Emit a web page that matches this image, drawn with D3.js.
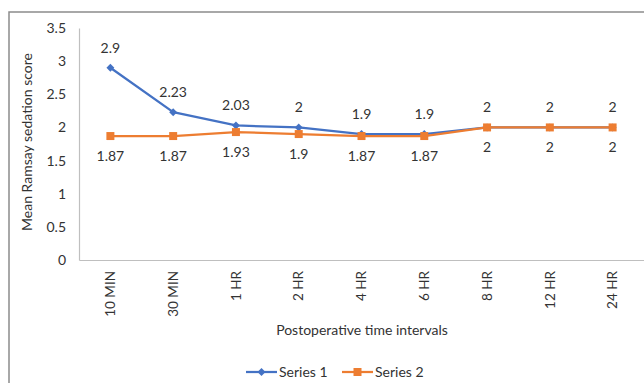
<!DOCTYPE html>
<html>
<head>
<meta charset="utf-8">
<script src="https://cdn.jsdelivr.net/npm/d3@7"></script>
<style>
  html, body { margin: 0; padding: 0; background: #fff; }
  svg { display: block; font-family: Lato, "Open Sans", sans-serif; }
</style>
</head>
<body>
<svg id="chart" width="644" height="383"></svg>
<script>
// Postoperative sedation: mean Ramsay score per time interval
const categories = ["10 MIN", "30 MIN", "1 HR", "2 HR", "4 HR", "6 HR", "8 HR", "12 HR", "24 HR"];
const series1 = [2.9, 2.23, 2.03, 2, 1.9, 1.9, 2, 2, 2];
const series2 = [1.87, 1.87, 1.93, 1.9, 1.87, 1.87, 2, 2, 2];
const yTicks = [0, 0.5, 1, 1.5, 2, 2.5, 3, 3.5];
const seriesNames = ["Series 1", "Series 2"];

const colors = ["#4472C4", "#ED7D31"];
const textColor = "#333333";
const fontSize = "14px";

const svg = d3.select("#chart");

// outer frame (top and left edges visible)
svg.append("path")
  .attr("d", "M9,383 L9,12 L644,12")
  .attr("fill", "none")
  .attr("stroke", "#8c8c8c")
  .attr("stroke-width", 1.5);

const plot = { left: 79, right: 644, top: 28, bottom: 260 };

const x = d3.scaleBand().domain(categories).range([plot.left, plot.right]);
const y = d3.scaleLinear().domain([0, 3.5]).range([plot.bottom, plot.top]);
const cx = c => x(c) + x.bandwidth() / 2;

// y axis
const yAxis = svg.append("g")
  .attr("transform", `translate(${plot.left},0)`)
  .call(d3.axisLeft(y).tickValues(yTicks).tickSize(0).tickPadding(13).tickFormat(d3.format("")));
yAxis.select(".domain").attr("stroke", "#bfbfbf").attr("stroke-width", 1.2);
yAxis.selectAll("text").attr("fill", textColor).style("font-size", fontSize).style("font-family", "Lato, sans-serif");

// x axis
const xAxis = svg.append("g")
  .attr("transform", `translate(0,${plot.bottom})`)
  .call(d3.axisBottom(x).tickSize(0).tickPadding(0));
xAxis.select(".domain").attr("stroke", "#bfbfbf").attr("stroke-width", 1.2);
xAxis.selectAll("text")
  .attr("fill", textColor)
  .style("font-size", "13.5px")
  .style("font-family", "Lato, sans-serif")
  .attr("transform", "rotate(-90)")
  .attr("text-anchor", "end")
  .attr("x", -11)
  .attr("y", 0)
  .attr("dy", "0.35em");

// axis titles
svg.append("text")
  .attr("x", 362).attr("y", 335)
  .attr("text-anchor", "middle")
  .attr("fill", textColor)
  .style("font-size", fontSize)
  .text("Postoperative time intervals");

svg.append("text")
  .attr("transform", "translate(32,142) rotate(-90)")
  .attr("text-anchor", "middle")
  .attr("fill", textColor)
  .style("font-size", fontSize)
  .text("Mean Ramsay sedation score");

const line = d3.line().x((d, i) => cx(categories[i])).y(d => y(d));

const data = [series1, series2];

// draw lines
data.forEach((vals, s) => {
  svg.append("path")
    .datum(vals)
    .attr("d", line)
    .attr("fill", "none")
    .attr("stroke", colors[s])
    .attr("stroke-width", 2.25)
    .attr("stroke-linejoin", "round");
});

const diamond = d3.symbol().type(d3.symbolDiamond2).size(40);
const square = d3.symbol().type(d3.symbolSquare).size(64);

// series 1 markers (diamond)
svg.append("g").selectAll("path")
  .data(series1)
  .join("path")
  .attr("d", diamond)
  .attr("transform", (d, i) => `translate(${cx(categories[i])},${y(d)})`)
  .attr("fill", colors[0]);

// series 2 markers (square)
svg.append("g").selectAll("path")
  .data(series2)
  .join("path")
  .attr("d", square)
  .attr("transform", (d, i) => `translate(${cx(categories[i])},${y(d)})`)
  .attr("fill", colors[1]);

// value labels: series 1 above, series 2 below
svg.append("g").selectAll("text")
  .data(series1)
  .join("text")
  .attr("x", (d, i) => cx(categories[i]))
  .attr("y", d => y(d) - 20)
  .attr("dy", "0.35em")
  .attr("text-anchor", "middle")
  .attr("fill", textColor)
  .style("font-size", fontSize)
  .text(d => d);

svg.append("g").selectAll("text")
  .data(series2)
  .join("text")
  .attr("x", (d, i) => cx(categories[i]))
  .attr("y", d => y(d) + 20)
  .attr("dy", "0.35em")
  .attr("text-anchor", "middle")
  .attr("fill", textColor)
  .style("font-size", fontSize)
  .text(d => d);

// legend
const legendItems = [
  { x: 246, symbol: diamond },
  { x: 342, symbol: square }
];
legendItems.forEach((item, s) => {
  const g = svg.append("g").attr("transform", `translate(${item.x},372)`);
  g.append("line").attr("x1", 0).attr("x2", 31).attr("y1", 0).attr("y2", 0)
    .attr("stroke", colors[s]).attr("stroke-width", 2.25);
  g.append("path").attr("d", item.symbol).attr("transform", "translate(15.5,0)").attr("fill", colors[s]);
  g.append("text").attr("x", 33).attr("y", 0).attr("dy", "0.35em")
    .attr("fill", textColor).style("font-size", fontSize).text(seriesNames[s]);
});
</script>
</body>
</html>
